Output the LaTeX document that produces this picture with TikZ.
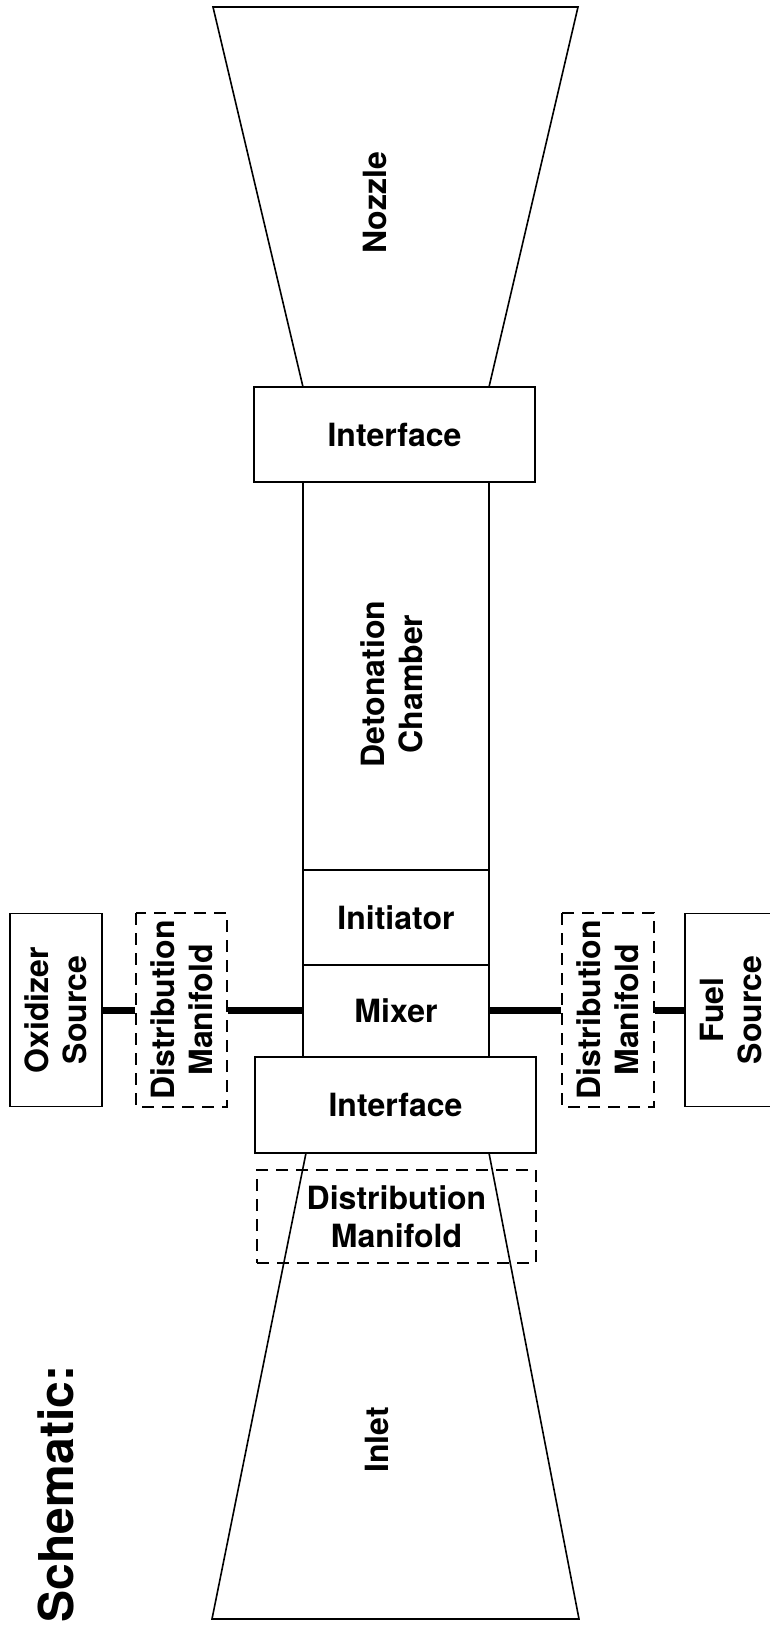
\documentclass[tikz,border=0pt]{standalone}
\usepackage{fontspec}
\setmainfont{TeX Gyre Heros}
\usetikzlibrary{calc}
\tikzset{
	part/.style={draw, line width=1.6pt, inner sep=0pt, align=center, font=\fontsize{32}{38}\selectfont\bfseries},
	dpart/.style={part, line width=1.9pt, dash pattern=on 12pt off 8pt},
	upright/.style={rotate=90},
	pipe/.style={line width=7pt},
	lbl/.style={align=center, font=\fontsize{32}{38}\selectfont\bfseries}
}

\begin{document}
\begin{tikzpicture}[x=1pt, y=-1pt]
		%%%%% START %%%%%
		\useasboundingbox (0, 0) rectangle (769, 1625);
		
		% nozzle and inlet
		\draw[line width=1.6pt] (213, 7) -- (578, 7) -- (489, 387) -- (303, 387) -- cycle;
		\node[lbl, upright] (nozzle) at (375, 203) {Nozzle};
		\draw[line width=1.6pt] (306, 1153) -- (489, 1153) -- (579, 1619) -- (212, 1619) -- cycle;
		\node[lbl, upright] (inlet) at (377, 1440) {Inlet};
		
		% engine core
		\node[part, minimum width=281pt, minimum height=95pt] (topif) at (394.5, 434.5) {Interface};
		\node[part, minimum width=186pt, minimum height=388pt] (chamber) at (396, 676) {};
		\node[lbl, upright] (chlbl) at (392, 684) {Detonation\\Chamber};
		\node[part, minimum width=186pt, minimum height=95pt] (init) at (396, 917.5) {Initiator};
		\node[part, minimum width=186pt, minimum height=92pt] (mixer) at (396, 1011) {Mixer};
		\node[part, fill=white, minimum width=281pt, minimum height=96pt] (lowif) at (395.5, 1105) {Interface};
		\node[dpart, minimum width=279pt, minimum height=93pt] (inman) at (396.5, 1216.5) {Distribution\\Manifold};
		
		% feed lines
		\node[part, upright, minimum width=193pt, minimum height=92pt] (oxsrc) at (56, 1010) {Oxidizer\\Source};
		\node[dpart, upright, minimum width=194pt, minimum height=91pt] (oxman) at (181.5, 1010) {Distribution\\Manifold};
		\node[dpart, upright, minimum width=194pt, minimum height=92pt] (fuman) at (608, 1010) {Distribution\\Manifold};
		\node[part, upright, minimum width=193pt, minimum height=92pt] (fusrc) at (731, 1010) {Fuel\\Source};
		
		\draw[pipe] (oxsrc) -- (oxman);
		\draw[pipe] (oxman) -- (oxman -| mixer.west);
		\draw[pipe] (fuman -| mixer.east) -- (fuman);
		\draw[pipe] (fuman) -- (fusrc);
		
		\node[upright, font=\fontsize{48}{54}\selectfont\bfseries] (title) at (56, 1494) {Schematic:};
		%%%%% END %%%%%
	\end{tikzpicture}
\end{document}
